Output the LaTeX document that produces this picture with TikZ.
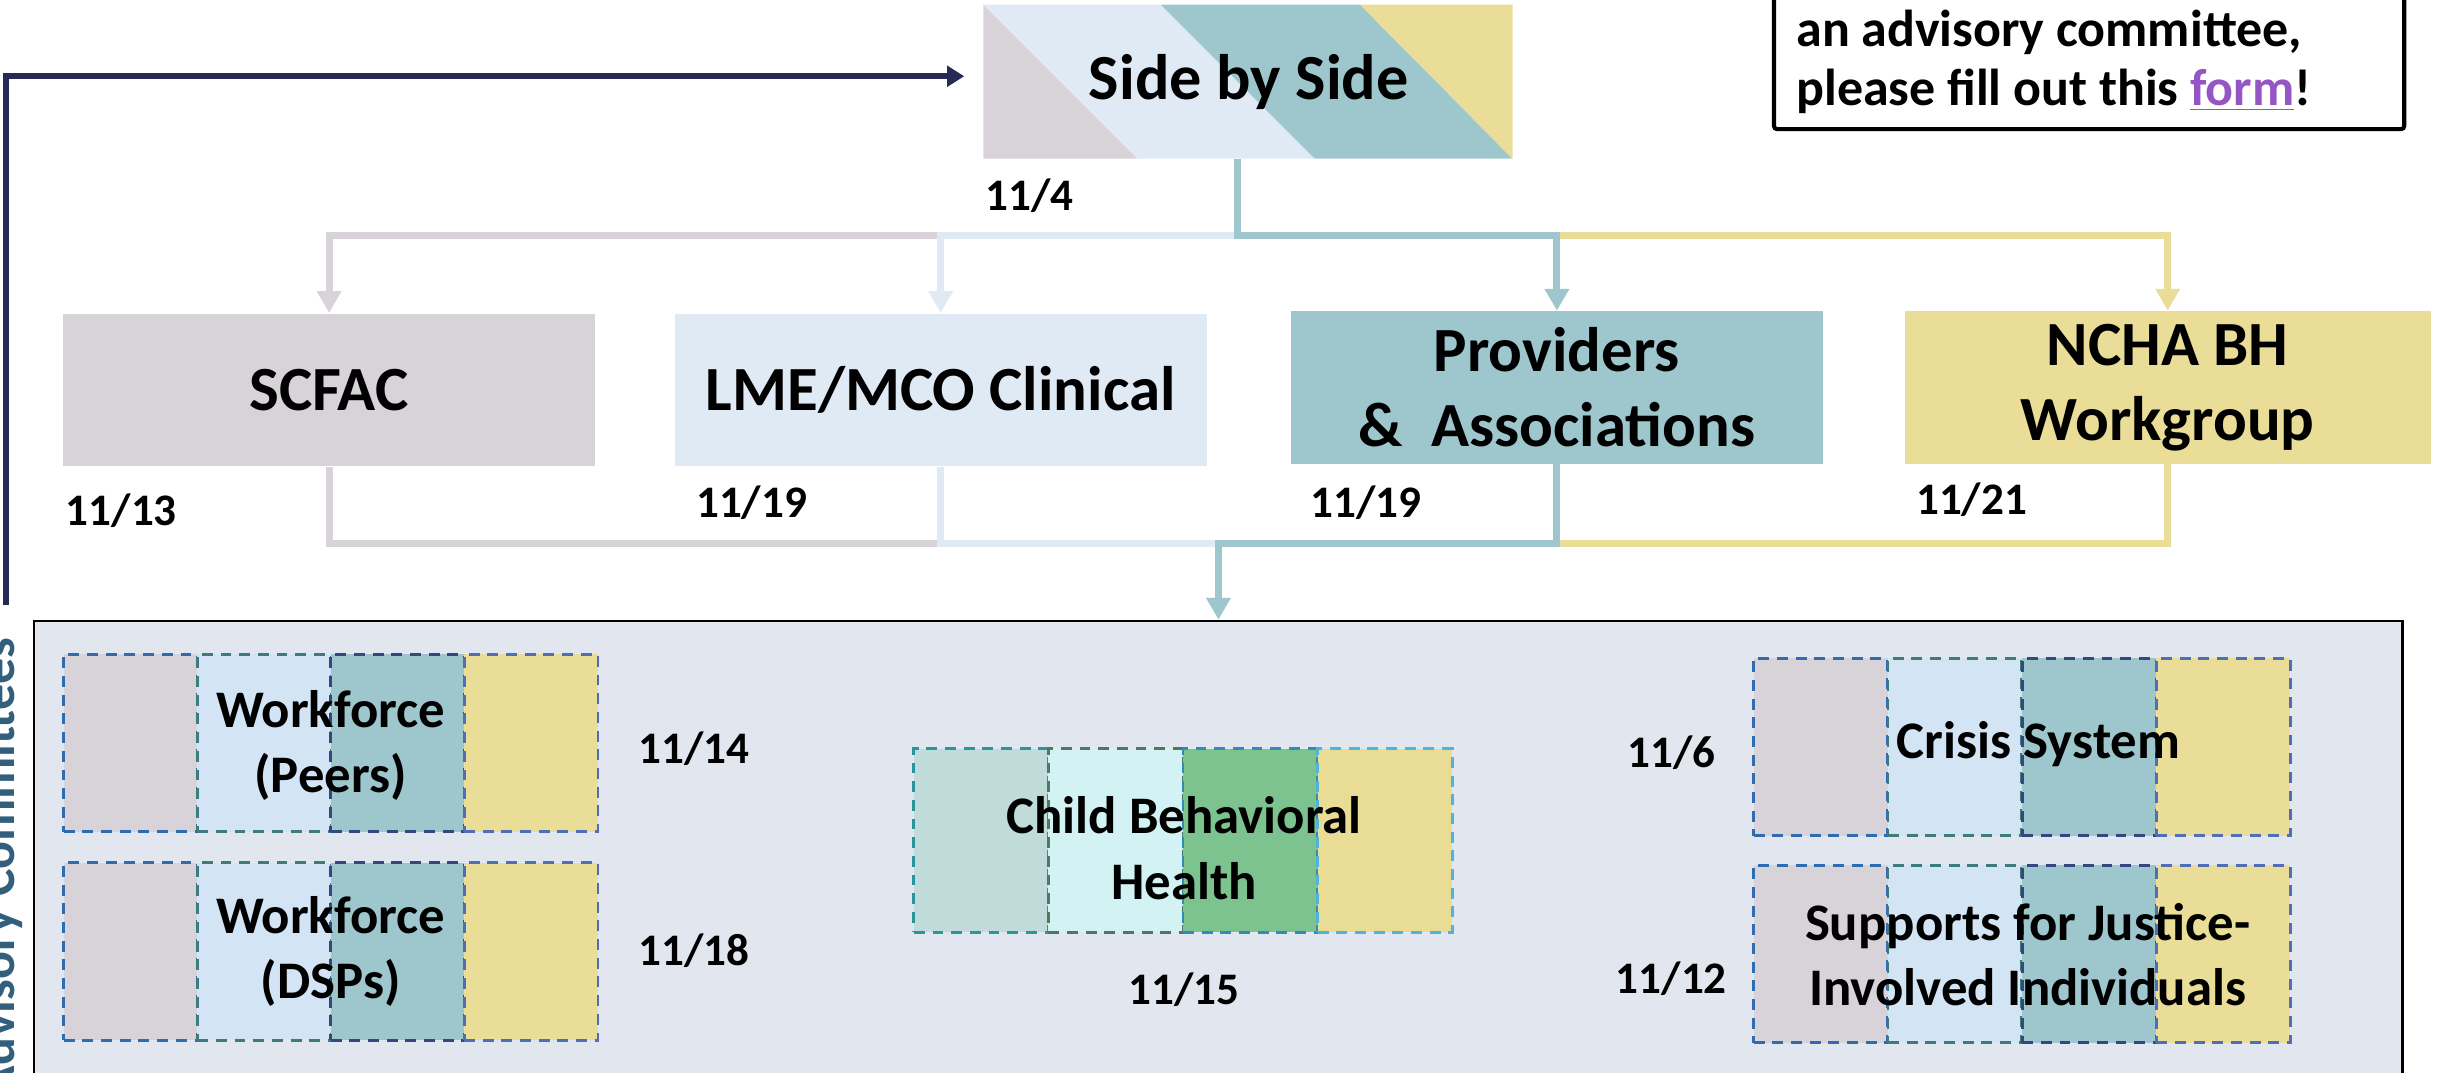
\documentclass[tikz,border=0pt]{standalone}
\usepackage{fontspec}
\setmainfont{Carlito}
\usetikzlibrary{arrows.meta}

\definecolor{cgrey}{RGB}{216,211,217}
\definecolor{clight}{RGB}{223,234,245}
\definecolor{csky}{RGB}{211,228,245}
\definecolor{cteal}{RGB}{158,198,205}
\definecolor{cyellow}{RGB}{233,221,151}
\definecolor{cpanel}{RGB}{226,231,239}
\definecolor{cnavy}{RGB}{38,42,84}
\definecolor{cslate}{RGB}{50,95,124}
\definecolor{cform}{RGB}{149,85,197}
\definecolor{dblue}{RGB}{46,107,175}
\definecolor{dteal}{RGB}{62,123,127}
\definecolor{dnavy}{RGB}{52,72,127}
\definecolor{dperi}{RGB}{79,110,181}
% child behavioral health
\definecolor{kgrey}{RGB}{192,219,218}
\definecolor{kcyan}{RGB}{211,242,244}
\definecolor{kgreen}{RGB}{125,195,143}
\definecolor{kyellow}{RGB}{233,220,148}
\definecolor{kdashA}{RGB}{42,150,155}
\definecolor{kdashB}{RGB}{80,120,95}
\definecolor{kdashC}{RGB}{50,140,185}
\definecolor{kdashD}{RGB}{80,180,215}

\tikzset{
  mainbox/.style={rectangle, minimum width=68.4mm, minimum height=19.6mm, inner sep=0pt,
    align=center, font=\fontsize{23}{27.3}\selectfont\bfseries},
  cellbox/.style={rectangle, minimum width=17.2mm, minimum height=22.8mm, inner sep=0pt,
    line width=0.36mm, dash pattern=on 1.4mm off 1mm},
  boxtext/.style={align=center, inner sep=0pt, font=\fontsize{19.3}{23.9}\selectfont\bfseries},
  datetext/.style={inner sep=0pt, font=\fontsize{16.5}{19}\selectfont\bfseries},
  link/.style={line width=0.9mm, -{Triangle[length=2.8mm, width=3mm]}},
  wire/.style={line width=0.9mm},
}

\begin{document}
\begin{tikzpicture}[x=0.2mm, y=-0.2mm]
  \useasboundingbox (0,0) rectangle (1568,689);
  \clip (0,0) rectangle (1568,689);

  % side by side, striped
  \fill[cgrey] (632,3) -- (731,102) -- (632,102) -- cycle;
  \fill[clight] (632,3) -- (746,3) -- (845,102) -- (731,102) -- cycle;
  \fill[cteal] (746,3) -- (874,3) -- (972,102) -- (845,102) -- cycle;
  \fill[cyellow] (874,3) -- (972,3) -- (972,102) -- cycle;
  \node[mainbox, minimum width=68mm, minimum height=19.8mm, font=\fontsize{23.5}{28}\selectfont\bfseries] (sbs) at (802.5,52.5) {Side by Side};

  \begin{scope}[mainbox]
    \node[fill=cgrey] (scfac) at (211.5,250.5) {SCFAC};
    \node[fill=clight] (lme) at (604.5,250.5) {LME/MCO Clinical};
    \node[fill=cteal] (prov) at (1000.5,249) {Providers\\\&~~Associations};
    \node[fill=cyellow, minimum width=67.6mm] (ncha) at (1393,249) {NCHA BH\\Workgroup};
  \end{scope}

  \begin{scope}[datetext]
    \node[anchor=west] (d4) at (633,126) {11/4};
    \node[anchor=west] (d13) at (42,328) {11/13};
    \node[anchor=west] (d19a) at (447,323) {11/19};
    \node[anchor=west] (d19b) at (842,323) {11/19};
    \node[anchor=west] (d21) at (1231,321) {11/21};
  \end{scope}

  % advisory committees panel
  \node[rectangle, fill=cpanel, draw=black, line width=0.32mm, minimum width=304.4mm,
    minimum height=64.4mm, inner sep=0pt] (panel) at (783,560) {};

  \foreach \k/\fc/\dc in {0/cgrey/dblue, 1/csky/dteal, 2/cteal/dnavy, 3/cyellow/dperi}{
    \node[cellbox, fill=\fc, draw=\dc] (pe\k) at ({84+85.75*\k},477.5) {};
    \node[cellbox, fill=\fc, draw=\dc] (ds\k) at ({84+85.75*\k},611.5) {};
    \node[cellbox, fill=\fc, draw=\dc] (cr\k) at ({1170+86.25*\k},480) {};
    \node[cellbox, fill=\fc, draw=\dc] (ju\k) at ({1170+86.25*\k},613) {};
  }
  \foreach \k/\fc/\dc in {0/kgrey/kdashA, 1/kcyan/kdashB, 2/kgreen/kdashC, 3/kyellow/kdashD}{
    \node[cellbox, minimum width=17.3mm, minimum height=23.6mm, fill=\fc, draw=\dc] (ch\k) at ({630.5+86.5*\k},540) {};
  }

  \begin{scope}[boxtext]
    \node (peers) at (212.5,479) {Workforce\\(Peers)};
    \node (dsps) at (212.5,611.5) {Workforce\\(DSPs)};
    \node (child) at (761,545) {Child Behavioral\\Health};
    \node (crisis) at (1310,478) {Crisis System};
    \node (justice) at (1303,613.5) {Supports for Justice-\\Involved Individuals};
  \end{scope}

  \begin{scope}[datetext]
    \node[anchor=west] (d14) at (410,481) {11/14};
    \node[anchor=west] (d18) at (410,611) {11/18};
    \node (d15) at (761,636) {11/15};
    \node (d6) at (1074,484) {11/6};
    \node (d12) at (1074,629) {11/12};
  \end{scope}

  \node[rotate=90, anchor=base, text=cslate, inner sep=0pt,
    font=\fontsize{19}{19}\selectfont\bfseries] (advc) at (9,557.5) {Advisory Committees};

  % note box (top cut off)
  \draw[line width=0.52mm, rounded corners=0.4mm] (1140,-40) rectangle (1545,83);
  \node[anchor=base west, inner sep=0pt, font=\fontsize{19}{21.3}\selectfont\bfseries] (note1) at (1154,30) {an advisory committee,};
  \node[anchor=base west, inner sep=0pt, font=\fontsize{19}{21.3}\selectfont\bfseries] (note2) at (1154,67.5) {please fill out this \textcolor{cform}{\underline{form}}!};

  % connectors
  \coordinate (hub) at ([xshift=-1.4mm]sbs.south);
  \coordinate (tb) at (0,151.5);
  \coordinate (bb) at (0,349);
  \coordinate (m) at (783,349);
  \coordinate (cstart) at (4,389);

  \draw[link, cgrey] (lme.north |- tb) -| (scfac.north);
  \draw[link, clight] (hub |- tb) -| (lme.north);
  \draw[link, cyellow] (prov.north |- tb) -| (ncha.north);
  \draw[link, cteal] (hub) |- (prov.north |- tb) -- (prov.north);

  \draw[wire, cgrey] (scfac.south) |- (lme.south |- bb);
  \draw[wire, clight] (lme.south) |- (m);
  \draw[wire, cyellow] (ncha.south) |- (prov.south |- bb);
  \draw[link, cteal] (prov.south) |- (m) -- (panel.north);

  \draw[line width=0.8mm, cnavy, -{Triangle[length=2.2mm, width=2.6mm]}, shorten >=2.5mm]
    (cstart) |- ([yshift=0.7mm]sbs.west);
\end{tikzpicture}
\end{document}
